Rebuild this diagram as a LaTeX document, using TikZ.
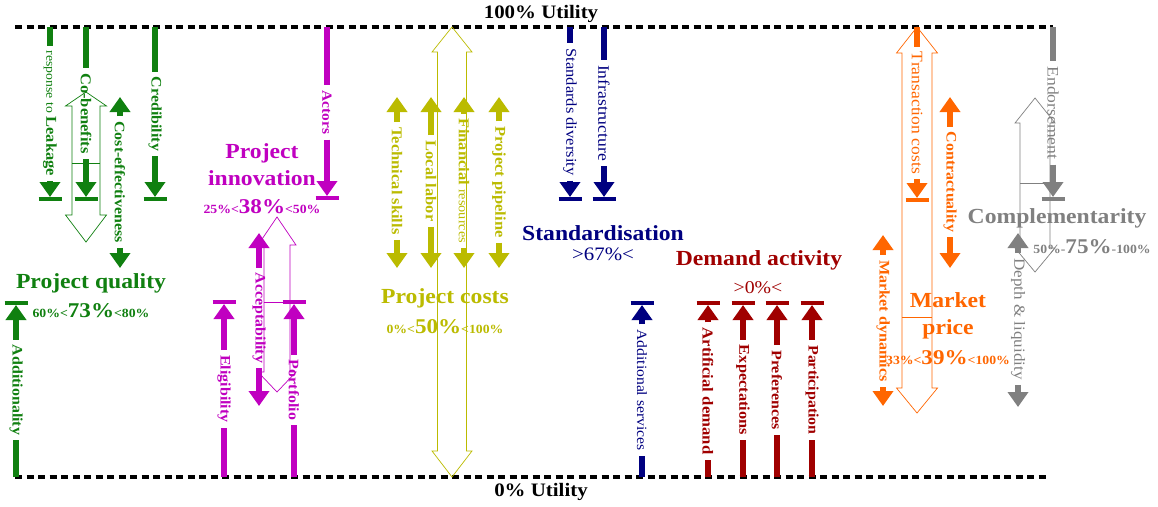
\documentclass[tikz,border=0pt]{standalone}
\usepackage{fontspec}
\setmainfont{Liberation Serif}[FakeStretch=1.1]
\usetikzlibrary{arrows.meta}

\definecolor{qgreen}{RGB}{16,128,16}
\definecolor{imag}{RGB}{192,0,192}
\definecolor{colive}{RGB}{187,187,0}
\definecolor{snavy}{RGB}{0,0,128}
\definecolor{dred}{RGB}{160,0,0}
\definecolor{morange}{RGB}{255,102,0}
\definecolor{cgrey}{RGB}{128,128,128}

\newcommand\lblsize[1]{\fontsize{#1}{#1}\selectfont}
\newcommand\pcS{\fontsize{12.5}{13}\selectfont}
\newcommand\pcL{\fontsize{21}{22}\selectfont}

\tikzset{
  bar/.style={line width=6pt},
  hd/.style={-{Triangle[width=20pt,length=15pt]}},
  tbar/.style={line width=3.5pt},
  lbl/.style={rotate=-90, inner xsep=5pt, inner ysep=0pt, font=\bfseries\lblsize{14.5}},
  hollow/.style={line width=0.7pt, line join=miter},
  title/.style={font=\bfseries\fontsize{21.5}{27}\selectfont, align=center, inner sep=0pt},
  pct/.style={font=\bfseries, inner sep=0pt},
  util/.style={font=\bfseries\lblsize{19}, inner sep=0pt, text=black},
  utilline/.style={black, line width=3.2pt, dash pattern=on 7pt off 4.5pt},
}

% factor pointing down from 100%, ending on a stop bar
\newcommand\arrDownStop[6][]{% opts, name, x, label y, tip y, text
  \coordinate (#2-s) at (#3,27);
  \node[lbl,#1] (#2) at (#3,#4) {#6};
  \coordinate (#2-e) at (#3,#5);
  \coordinate (#2-t) at (#3,#5+2);
  \draw[bar] (#2-s) -- (#2.west);
  \draw[bar,hd] (#2.east) -- (#2-e);
  \draw[tbar] ([xshift=-11.5pt]#2-t) -- ([xshift=11.5pt]#2-t);
}
% factor pointing up from 0%, ending on a stop bar
\newcommand\arrUpStop[6][]{% opts, name, x, stop y, label y, text
  \coordinate (#2-t) at (#3,#4);
  \coordinate (#2-e) at (#3,#4+2);
  \node[lbl,#1] (#2) at (#3,#5) {#6};
  \coordinate (#2-s) at (#3,477);
  \draw[bar] (#2-s) -- (#2.east);
  \draw[bar,hd] (#2.west) -- (#2-e);
  \draw[tbar] ([xshift=-11.5pt]#2-t) -- ([xshift=11.5pt]#2-t);
}
% two-way factor
\newcommand\arrBoth[7][]{% opts, name, x, top tip, label y, bottom tip, text
  \node[lbl,#1] (#2) at (#3,#5) {#7};
  \coordinate (#2-a) at (#3,#4);
  \coordinate (#2-b) at (#3,#6);
  \draw[bar,hd] (#2.west) -- (#2-a);
  \draw[bar,hd] (#2.east) -- (#2-b);
}
% outlined range arrow
\newcommand\hollowArrow[7]{% cx, top tip, top base, bottom base, bottom tip, shaft half, head half
  \draw[hollow] (#1,#2) -- (#1+#7,#3) -- (#1+#6,#3) -- (#1+#6,#4) -- (#1+#7,#4) -- (#1,#5)
    -- (#1-#7,#4) -- (#1-#6,#4) -- (#1-#6,#3) -- (#1-#7,#3) -- cycle;
}

\begin{document}
\begin{tikzpicture}[x=1pt,y=-1pt]
\fill[white] (0,0) rectangle (1158,506);
\useasboundingbox (0,0) rectangle (1158,506);

% utility levels
\coordinate (top-l) at (15,27);
\coordinate (top-r) at (1053,27);
\coordinate (bot-l) at (15,477);
\coordinate (bot-r) at (1050,477);
\draw[utilline] (top-l) -- (top-r);
\draw[utilline] (bot-l) -- (bot-r);
\node[util] (u100) at (541,14) {100\% Utility};
\node[util] (u0) at (541,492) {0\% Utility};

% ---- project quality
\begin{scope}[color=qgreen]
  \hollowArrow{86}{92}{106}{215}{242}{14}{20.5}
  \draw[hollow] (72,163) -- (100,163);
  \arrDownStop{q-leak}{50}{113.5}{197}{\mdseries\lblsize{12.5}response to \bfseries\lblsize{15}Leakage}
  \arrDownStop[font=\bfseries\lblsize{15}]{q-cob}{86}{113.5}{197}{Co-benefits}
  \arrDownStop{q-cred}{155}{114}{197}{Credibility}
  \arrBoth{q-ce}{120}{97}{182}{268}{Cost-effectiveness}
  \arrUpStop{q-add}{16}{303}{390}{Additionality}
  \node[title] (q-title) at (91,283) {Project quality};
  \node[pct] (q-pct) at (91,311) {\pcS 60\%<\pcL 73\%\pcS <80\%};
\end{scope}

% ---- project innovation
\begin{scope}[color=imag]
  \hollowArrow{277}{217}{245}{372}{392}{13}{19}
  \draw[hollow] (264,302) -- (290,302);
  \arrDownStop[font=\bfseries\lblsize{14}]{i-act}{327}{112.5}{196}{Actors}
  \arrBoth{i-acc}{259}{233}{318}{406}{Acceptability}
  \arrUpStop{i-elig}{224}{302}{389}{Eligibility}
  \arrUpStop{i-port}{294}{302}{390}{Portfolio}
  \node[title] (i-title) at (262,165) {Project\\innovation};
  \node[pct] (i-pct) at (262,207) {\pcS 25\%<\pcL 38\%\pcS <50\%};
\end{scope}

% ---- project costs
\begin{scope}[color=colive]
  \hollowArrow{452}{27}{52}{451}{477}{14.5}{20}
  \arrBoth[font=\bfseries\lblsize{15}]{c-tech}{397}{97}{181}{268}{Technical skills}
  \arrBoth[font=\bfseries\lblsize{15}]{c-lab}{431}{97}{181}{268}{Local labor}
  \arrBoth{c-fin}{464}{97}{181}{268}{\lblsize{15}Financial \mdseries\lblsize{13}resources}
  \arrBoth[font=\bfseries\lblsize{15}]{c-pipe}{499}{97}{182}{268}{Project pipeline}
  \node[title] (c-title) at (445,298) {Project costs};
  \node[pct] (c-pct) at (445,327) {\pcS 0\%<\pcL 50\%\pcS <100\%};
\end{scope}

% ---- standardisation
\begin{scope}[color=snavy]
  \arrDownStop[font=\mdseries\lblsize{15}]{s-std}{570}{112}{197}{Standards diversity}
  \arrDownStop[font=\mdseries\lblsize{16}]{s-inf}{604}{113}{197}{Infrastructure}
  \arrUpStop[font=\mdseries\lblsize{14.2}]{s-add}{642}{303}{390}{Additional services}
  \node[title] (s-title) at (603,233) {Standardisation};
  \node[pct, font=\mdseries\lblsize{19}] (s-pct) at (603,254) {>67\%<};
\end{scope}

% ---- demand activity
\begin{scope}[color=dred]
  \arrUpStop[font=\bfseries\lblsize{15.2}]{d-art}{708}{303}{391}{Artificial demand}
  \arrUpStop[font=\bfseries\lblsize{14.9}]{d-exp}{743}{303}{390}{Expectations}
  \arrUpStop{d-pref}{777}{303}{390}{Preferences}
  \arrUpStop{d-part}{812}{303}{390}{Participation}
  \node[title] (d-title) at (759,260) {Demand activity};
  \node[pct, font=\mdseries\lblsize{18}] (d-pct) at (758,288) {>0\%<};
\end{scope}

% ---- market price
\begin{scope}[color=morange]
  \hollowArrow{917}{27}{53}{388}{413}{15}{20.5}
  \draw[hollow] (902,317) -- (932,317);
  \arrDownStop[font=\mdseries\lblsize{16}]{m-trans}{917}{113}{198}{Transaction costs}
  \arrBoth{m-contr}{950}{97}{182}{268}{Contractuality}
  \arrBoth[font=\bfseries\lblsize{14.7}]{m-dyn}{883}{235}{321}{406}{Market dynamics}
  \node[title] (m-title) at (948,316) {Market\\price};
  \node[pct] (m-pct) at (948,358) {\pcS 33\%<\pcL 39\%\pcS <100\%};
\end{scope}

% ---- complementarity
\begin{scope}[color=cgrey]
  \hollowArrow{1035}{98}{123}{248}{272}{15}{20}
  \draw[hollow] (1020,183) -- (1050,183);
  \arrDownStop[font=\mdseries\lblsize{16}]{g-end}{1053}{113}{197}{Endorsement}
  \arrBoth[font=\mdseries\lblsize{15.5}]{g-depth}{1018}{233}{319}{407}{Depth \& liquidity}
  \node[title] (g-title) at (1057,218) {Complementarity};
  \node[pct] (g-pct) at (1092,247) {\pcS 50\%-\pcL 75\%\pcS -100\%};
\end{scope}
\end{tikzpicture}
\end{document}
